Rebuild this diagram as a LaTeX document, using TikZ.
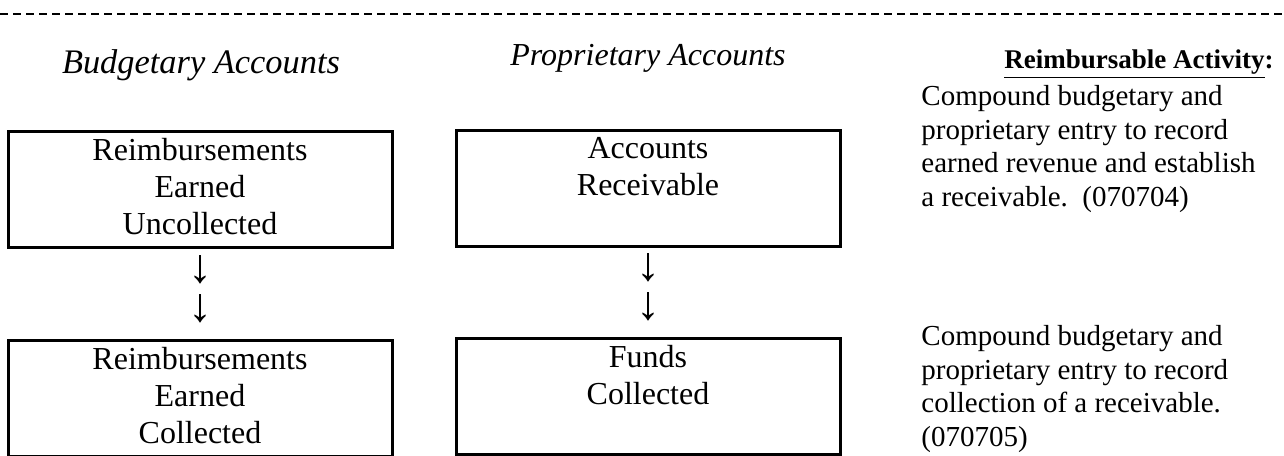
\documentclass[tikz,border=0pt]{standalone}
\usepackage{fontspec}
\setmainfont{Liberation Serif}
\usetikzlibrary{positioning}

\begin{document}
\begin{tikzpicture}[x=0.5pt,y=-0.5pt,node distance=5pt,thin]
                \tikzset{acct/.style={draw, line width=1.5pt, minimum width=192pt, minimum height=58pt, inner sep=0pt},
                         lines/.style={align=center, inner sep=0pt, font=\fontsize{16}{18.5}\selectfont},
                         note/.style={align=left, anchor=north west, inner sep=0pt, font=\fontsize{14.5}{16.75}\selectfont},
                         head/.style={inner sep=0pt},
                         down/.style={inner sep=0pt, text height=13pt, text depth=0pt, font=\fontsize{24}{26}\selectfont}}
                \useasboundingbox (0,0) rectangle (1284,455);
                \coordinate (dashL) at (0,14);
                \coordinate (dashR) at (1284,14);
                \draw[line width=1.2pt, dash pattern=on 4pt off 2.5pt] (dashL) -- (dashR);
                \node[head, font=\fontsize{17.2}{19}\selectfont\itshape] (budg) at (201,65) {Budgetary Accounts};
                \node[head, font=\fontsize{16}{18}\selectfont\itshape] (prop) at (648,58) {Proprietary Accounts};
                \node[head, font=\fontsize{13.5}{16}\selectfont\bfseries] (activity) at (1139,64) {\underline{Reimbursable Activity}:};
                \node[acct] (uncoll) at (200,189) {};
                \node[lines, below=4pt of uncoll.north] (uncolltxt) {Reimbursements\\Earned\\Uncollected};
                \node[acct] (recv) at (648,188) {};
                \node[lines, below=4pt of recv.north] (recvtxt) {Accounts\\Receivable};
                \node[acct, below=45pt of uncoll] (coll) {};
                \node[lines, below=4pt of coll.north] (colltxt) {Reimbursements\\Earned\\Collected};
                \node[acct, below=44.5pt of recv] (funds) {};
                \node[lines, below=4pt of funds.north] (fundstxt) {Funds\\Collected};
                \node[down, below=4pt of uncoll] (arrA1) {↓};
                \node[down, below=6pt of arrA1] (arrA2) {↓};
                \node[down, below=3.5pt of recv] (arrB1) {↓};
                \node[down, below=6pt of arrB1] (arrB2) {↓};
                \node[note] (earnnote) at (921,85) {Compound budgetary and\\proprietary entry to record\\earned revenue and establish\\a receivable.\ \ (070704)};
                \node[note] (collnote) at (921,325) {Compound budgetary and\\proprietary entry to record\\collection of a receivable.\\(070705)};
            \end{tikzpicture}
\end{document}
